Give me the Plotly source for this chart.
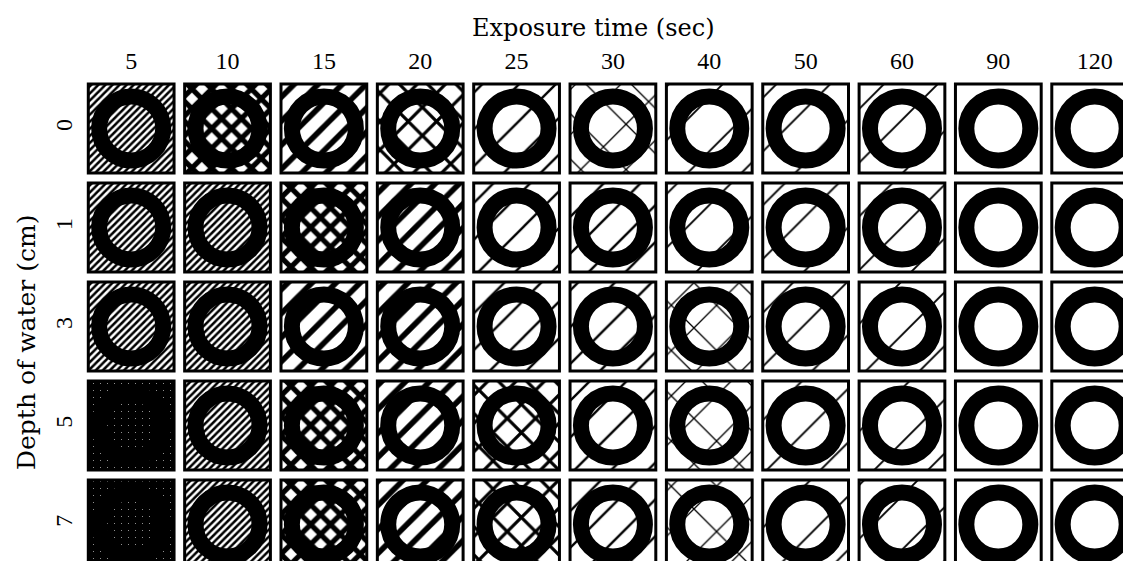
import plotly.graph_objects as go

# ---- data -------------------------------------------------------------
exposure_sec = ["5", "10", "15", "20", "25", "30", "40", "50", "60", "90", "120"]
depth_cm = ["0", "1", "3", "5", "7"]

# hatch level of each cell (0 = darkest ... 8 = clear), one list per depth
level_depth0 = [1, 2, 3, 4, 5, 6, 7, 7, 7, 8, 8]
level_depth1 = [1, 1, 2, 3, 5, 5, 7, 7, 7, 8, 8]
level_depth3 = [1, 1, 3, 3, 5, 5, 6, 7, 7, 8, 8]
level_depth5 = [0, 1, 2, 3, 4, 5, 6, 7, 7, 8, 8]
level_depth7 = [0, 1, 2, 3, 4, 5, 6, 7, 7, 8, 8]
levels = [level_depth0, level_depth1, level_depth3, level_depth5, level_depth7]

# ---- styles -----------------------------------------------------------
HATCH = {
    0: dict(shape=".", size=7, solidity=0.015, fg="white", bg="black"),
    1: dict(shape="/", size=5, solidity=0.5, fg="black", bg="white"),
    2: dict(shape="x", size=14, solidity=0.6, fg="black", bg="white"),
    3: dict(shape="/", size=17, solidity=0.33, fg="black", bg="white"),
    4: dict(shape="x", size=20, solidity=0.3, fg="black", bg="white"),
    5: dict(shape="/", size=26, solidity=0.09, fg="black", bg="white"),
    6: dict(shape="x", size=32, solidity=0.08, fg="black", bg="white"),
    7: dict(shape="/", size=38, solidity=0.05, fg="black", bg="white"),
    8: dict(shape="", size=10, solidity=0.0, fg="black", bg="white"),
}
FONT = "Liberation Serif"
TITLE_FONT = "DejaVu Serif"

xs, rows, bases = [], [], []
shapes, sizes, solids, fgs, bgs = [], [], [], [], []
for r, row in enumerate(levels):
    for c, lv in enumerate(row):
        h = HATCH[lv]
        xs.append(exposure_sec[c])
        rows.append(r)
        bases.append(r - 0.45)
        shapes.append(h["shape"])
        sizes.append(h["size"])
        solids.append(h["solidity"])
        fgs.append(h["fg"])
        bgs.append(h["bg"])

fig = go.Figure()
fig.add_trace(go.Bar(
    x=xs, y=[0.9] * len(xs), base=bases, width=0.89,
    marker=dict(
        color="white",
        line=dict(color="black", width=3),
        pattern=dict(shape=shapes, size=sizes, solidity=solids,
                     fgcolor=fgs, bgcolor=bgs, fillmode="replace"),
    ),
    hoverinfo="skip", showlegend=False,
))
fig.add_trace(go.Scatter(
    x=xs, y=rows, mode="markers",
    marker=dict(symbol="circle-open", size=64, color="black",
                line=dict(width=16, color="black")),
    hoverinfo="skip", showlegend=False,
))

fig.update_layout(
    width=1131, height=561,
    margin=dict(l=75, r=0, t=71, b=0),
    paper_bgcolor="white", plot_bgcolor="white",
    barmode="overlay",
    font=dict(family=FONT, color="black"),
    xaxis=dict(
        type="category", categoryorder="array", categoryarray=exposure_sec,
        side="top", range=[-0.5, 10.46], automargin=False,
        showgrid=False, zeroline=False, showline=False, ticks="",
        ticklabelstandoff=4,
        tickfont=dict(family=FONT, size=24),
    ),
    yaxis=dict(
        range=[4.45, -0.5], tickvals=[0, 1, 2, 3, 4], ticktext=depth_cm,
        tickangle=-90, automargin=False,
        showgrid=False, zeroline=False, showline=False, ticks="",
        ticklabelstandoff=5,
        tickfont=dict(family=FONT, size=24),
    ),
    annotations=[
        dict(text="Exposure time (sec)", xref="paper", yref="paper",
             x=(585 - 75) / 1056, y=1 + (71 - 20) / 490,
             xanchor="center", yanchor="middle", showarrow=False,
             font=dict(family=TITLE_FONT, size=24)),
        dict(text="Depth of water (cm)", xref="paper", yref="paper",
             x=(18 - 75) / 1056, y=(561 - 335) / 490, textangle=-90,
             xanchor="center", yanchor="middle", showarrow=False,
             font=dict(family=TITLE_FONT, size=25)),
    ],
)

fig.write_html("out.html")
